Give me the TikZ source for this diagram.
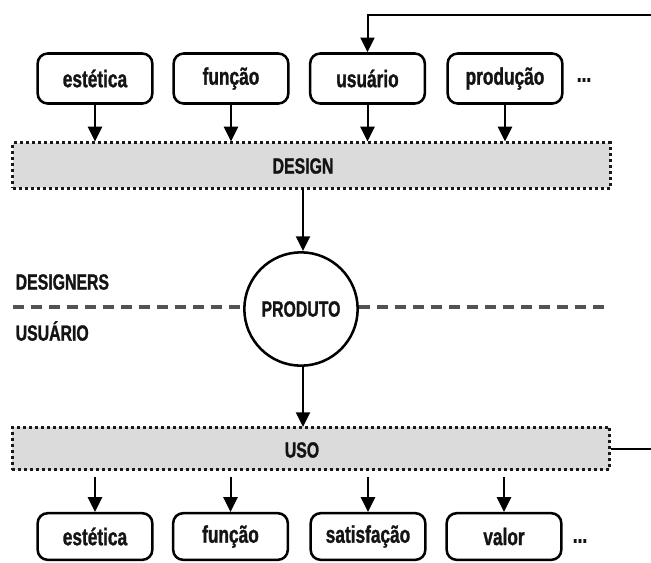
\documentclass[tikz,border=0pt]{standalone}
\usepackage{fontspec}
\setmainfont{Liberation Sans}[FakeStretch=0.72, BoldFeatures={FakeBold=1.2}]
\usetikzlibrary{arrows.meta}
\begin{document}
\begin{tikzpicture}[x=0.75pt,y=-0.75pt,
  txt/.style={font=\bfseries\fontsize{18}{20}\selectfont, text=black!92},
  captxt/.style={font=\bfseries\fontsize{16.5}{19}\selectfont, text=black!92},
  topbox/.style={txt, draw=black, line width=1.9pt, rounded corners=7.5pt,
    minimum width=86pt, minimum height=37.5pt, inner sep=0pt},
  botbox/.style={topbox, minimum height=35pt},
  bar/.style={draw=black!90, fill=black!14, line width=2.2pt,
    dash pattern=on 2.2pt off 2.3pt, minimum width=448pt, inner sep=0pt},
  flow/.style={draw=black, line width=1.5pt,
    -{Triangle[width=10.5pt,length=11pt]}},
  divider/.style={draw=black!68, line width=2.5pt, dash pattern=on 8.5pt off 5pt}
]
\useasboundingbox (0,0) rectangle (651,562);

% inputs to the design stage
\node[topbox] (est1) at (95,78.5) {estética};
\node[topbox] (fun1) at (231,78.5) {função};
\node[topbox] (usu1) at (367.5,78.5) {usuário};
\node[topbox] (pro1) at (505,78.5) {produção};
\node[txt] (dots1) at (584,80) {...};

% design and use bars
\node[bar, minimum height=34pt] (design) at (311.5,165.5) {};
\node[captxt] (designlbl) at (303,166) {DESIGN};
\node[bar, minimum height=32pt] (uso) at (311,448.5) {};
\node[captxt] (usolbl) at (302,450) {USO};

% product
\node[captxt, circle, draw=black, line width=1.9pt, minimum size=85pt,
  inner sep=0pt, fill=white] (produto) at (301,309) {PRODUTO};

% sides of the divide
\node[captxt, anchor=west] (designers) at (11,282) {DESIGNERS};
\node[captxt, anchor=west] (usuario) at (11,331) {USUÁRIO};
\coordinate (divl) at (13,307);
\coordinate (divr) at (610,307);
\draw[divider] (divl) -- (produto.west |- divl);
\draw[divider] (produto.east |- divr) -- (divr);

% outcomes of use
\node[botbox] (est2) at (95,536.5) {estética};
\node[botbox] (fun2) at (230.5,536.5) {função};
\node[botbox] (sat2) at (368,536.5) {satisfação};
\node[botbox] (val2) at (504,536.5) {valor};
\node[txt] (dots2) at (580,541) {...};

% arrows into design
\foreach \b in {est1,fun1,usu1,pro1}
  \draw[flow] (\b.south) -- (\b.south |- design.north);

% design -> product -> use
\draw[flow] (303,188) -- (produto.north -| 303,0);
\draw[flow] (produto.south -| 303,0) -- (303,427);

% arrows out of use
\foreach \b in {est2,fun2,sat2,val2}
  \draw[flow] (\b.north |- uso.south) ++(0,6) -- (\b.north);

% feedback loop from use back to the user
\coordinate (fbout) at (651,449);
\coordinate (fbin) at (651,15);
\draw[draw=black, line width=1.5pt] (uso.east |- fbout) -- (fbout);
\draw[flow] (fbin) -| (usu1.north);
\end{tikzpicture}
\end{document}
